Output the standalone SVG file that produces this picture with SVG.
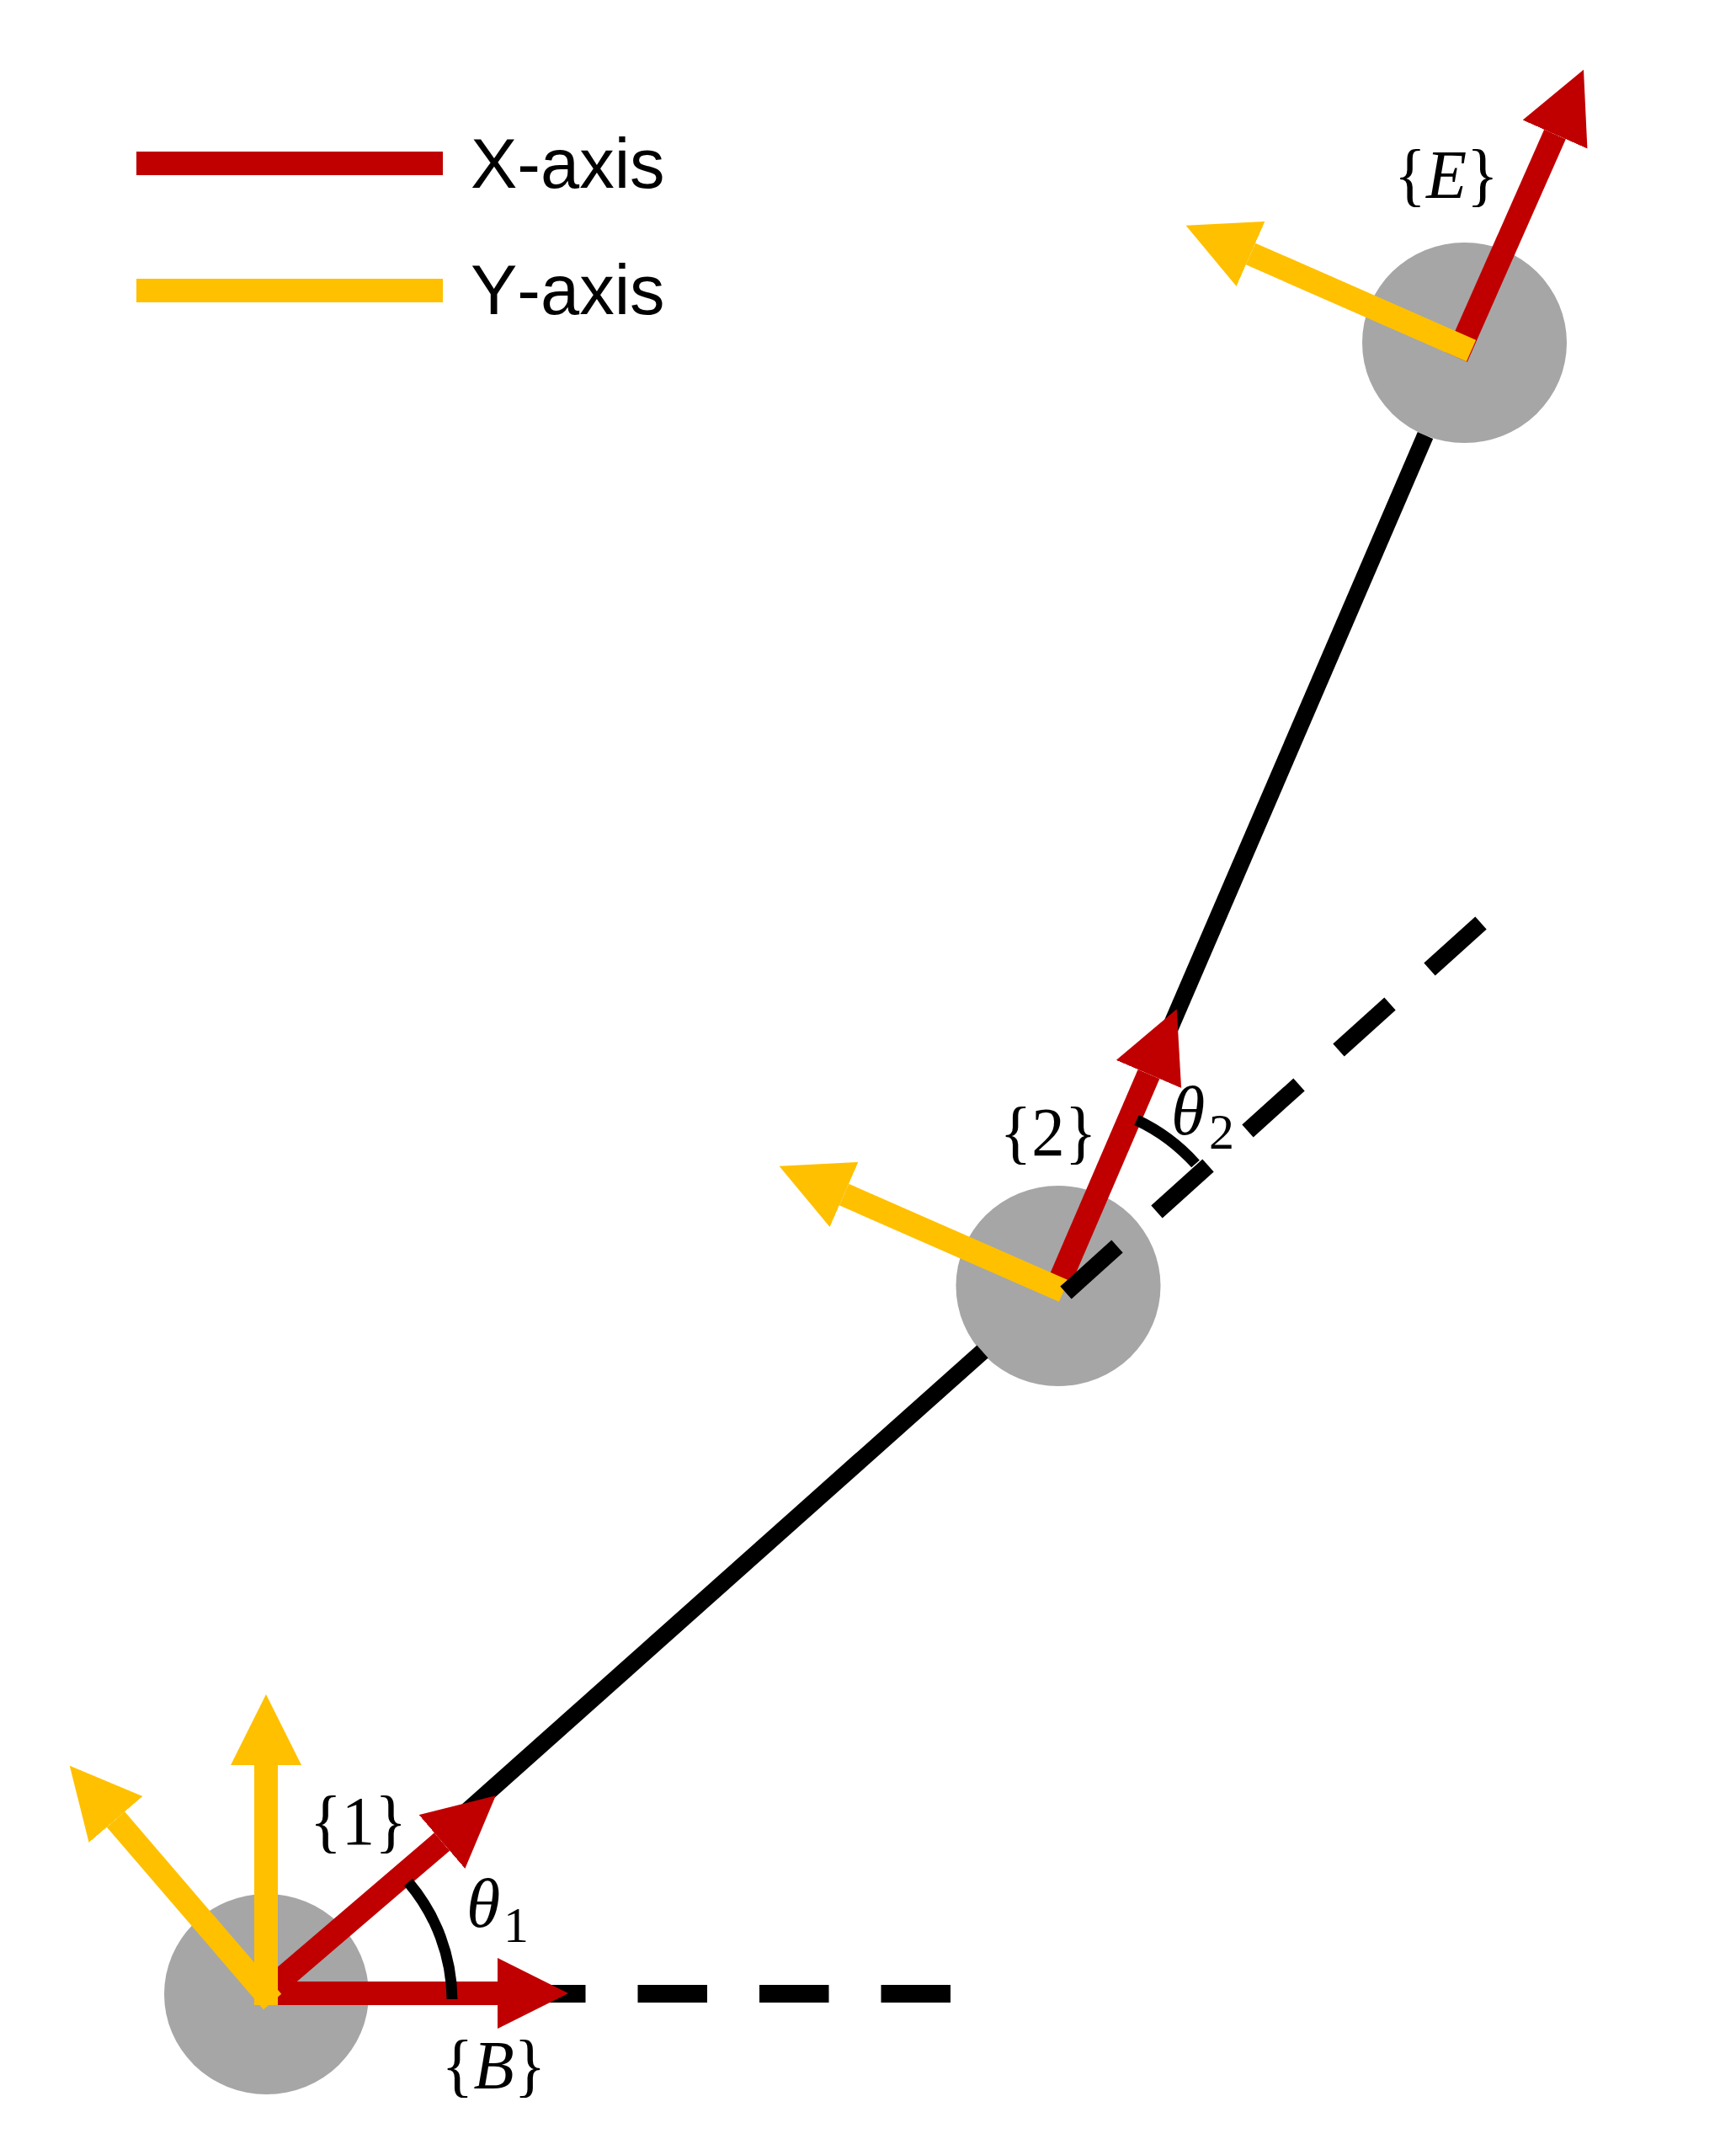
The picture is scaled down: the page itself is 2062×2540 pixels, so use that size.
<svg xmlns="http://www.w3.org/2000/svg" width="2062" height="2540" viewBox="0 0 2062 2540">
<style>
.joint{fill:#A6A6A6}
.link{stroke:#000;stroke-width:20;fill:none}
.dash{stroke:#000;stroke-width:21;fill:none;stroke-dasharray:82.5 62}
.seg{stroke:#000;stroke-width:20;fill:none}
.arc{stroke:#000;stroke-width:13;fill:none}
.x{stroke:#C00000;stroke-width:28;fill:none;marker-end:url(#headX)}
.y{stroke:#FFC000;stroke-width:28;fill:none;marker-end:url(#headY)}
.leg{font-family:"Liberation Sans",Arial,sans-serif;font-size:83px;fill:#000;font-kerning:none}
.frame{font-family:"Liberation Serif","Times New Roman",serif;font-size:83px;fill:#000;text-anchor:middle}
.frame .v,.ang{font-style:italic}
.ang{font-family:"Liberation Serif","Times New Roman",serif;font-size:82px;fill:#000}
.ang .s{font-style:normal;font-size:60px}
</style>
<defs>
<marker id="headX" markerUnits="userSpaceOnUse" markerWidth="86" markerHeight="86" refX="0" refY="42" orient="auto"><polygon points="0,0 84,42 0,84" fill="#C00000"/></marker>
<marker id="headY" markerUnits="userSpaceOnUse" markerWidth="86" markerHeight="86" refX="0" refY="42" orient="auto"><polygon points="0,0 84,42 0,84" fill="#FFC000"/></marker>
</defs>
<rect width="2062" height="2540" fill="#fff"/>
<g id="legend">
<rect x="162" y="180" width="364" height="28" fill="#C00000"/>
<rect x="162" y="331" width="364" height="28" fill="#FFC000"/>
<text class="leg" x="559" y="223">X-axis</text>
<text class="leg" x="559" y="373">Y-axis</text>
</g>
<g id="node-base">
<ellipse class="joint" cx="316.500" cy="2368" rx="121.500" ry="119"/>
<text class="frame" transform="translate(586.500 2480) scale(.95 1)">{<tspan class="v">B</tspan>}</text>
</g>
<g id="node-1">
<text class="frame" transform="translate(425.500 2190) scale(.95 1)">{1}</text>
</g>
<g id="node-2">
<ellipse class="joint" cx="1257" cy="1527" rx="121.500" ry="119"/>
<text class="frame" transform="translate(1245 1372) scale(.95 1)">{2}</text>
</g>
<g id="node-E">
<ellipse class="joint" cx="1739.500" cy="407" rx="121.500" ry="119"/>
<text class="frame" transform="translate(1718 235) scale(.95 1)">{<tspan class="v">E</tspan>}</text>
</g>
<g id="connectors">
<line class="link" x1="552" y1="2153" x2="1167" y2="1605"/>
<line class="link" x1="1388" y1="1225" x2="1693" y2="517"/>
<line class="dash" x1="1129" y1="2367.500" x2="620" y2="2367.500"/>
<line class="x" x1="316" y1="2367" x2="591" y2="2367"/>
<line class="x" x1="316" y1="2366" x2="525" y2="2187"/>
<line class="y" x1="323.600" y1="2377" x2="137.500" y2="2160.500"/>
<line class="y" x1="316" y1="2381" x2="316" y2="2096"/>
<line class="x" x1="1257" y1="1525" x2="1364.500" y2="1275.500"/>
<line class="y" x1="1263.500" y1="1533" x2="1002.500" y2="1418.500"/>
<line class="x" x1="1730" y1="424" x2="1847" y2="159.500"/>
<line class="y" x1="1747.500" y1="416.500" x2="1485.500" y2="301.500"/>
<g id="dashes-2">
<line class="seg" x1="1266" y1="1535" x2="1327" y2="1480"/>
<line class="seg" x1="1374" y1="1439" x2="1435" y2="1384"/>
<line class="seg" x1="1482" y1="1343" x2="1543" y2="1288"/>
<line class="seg" x1="1590" y1="1247" x2="1651" y2="1192"/>
<line class="seg" x1="1698" y1="1151" x2="1759" y2="1096"/>
</g>
<path class="arc" d="M485 2235A218 218 0 0 1 537 2374"/>
<path class="arc" d="M1350 1330A219 219 0 0 1 1420 1382"/>
</g>
<g id="angles">
<text class="ang" x="554" y="2288">θ<tspan class="s" x="598" y="2306">1</tspan></text>
<text class="ang" x="1391" y="1347">θ<tspan class="s" x="1436" y="1364">2</tspan></text>
</g>
</svg>
